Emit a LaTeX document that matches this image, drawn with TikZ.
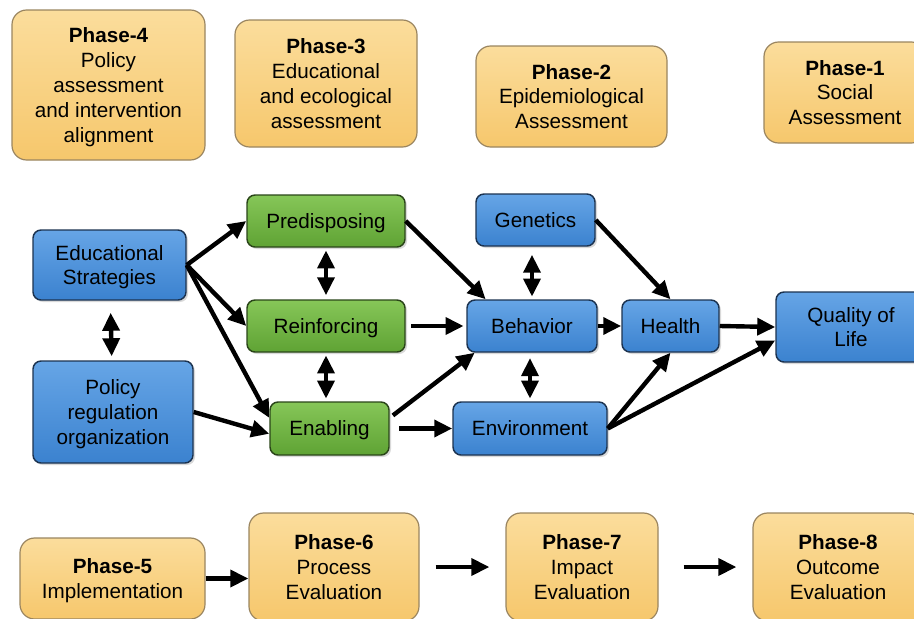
\documentclass[tikz,border=0pt]{standalone}
\usepackage{fontspec}
\setmainfont{Liberation Sans}
\usetikzlibrary{arrows.meta,shadows}

\definecolor{phasetop}{HTML}{FBDD9C}
\definecolor{phasebot}{HTML}{F6C76C}
\definecolor{phaseline}{HTML}{9A8560}
\definecolor{bluetop}{HTML}{66A5E6}
\definecolor{bluebot}{HTML}{3B82CF}
\definecolor{blueline}{HTML}{1C3350}
\definecolor{greentop}{HTML}{86C658}
\definecolor{greenbot}{HTML}{5FA334}
\definecolor{greenline}{HTML}{2A4519}

\tikzset{
  txt/.style={align=center, inner sep=0pt, text depth=0pt,
    font=\fontsize{15.5}{18.6}\selectfont},
  phase/.style={txt, draw=phaseline, line width=0.9pt, rounded corners=11pt,
    top color=phasetop, bottom color=phasebot},
  bluebox/.style={txt, draw=blueline, line width=1.1pt, rounded corners=6pt,
    top color=bluetop, bottom color=bluebot,
    drop shadow={opacity=0.3, shadow xshift=1.5pt, shadow yshift=-1.5pt}},
  greenbox/.style={txt, draw=greenline, line width=1.1pt, rounded corners=6pt,
    top color=greentop, bottom color=greenbot,
    drop shadow={opacity=0.3, shadow xshift=1.5pt, shadow yshift=-1.5pt}},
  link/.style={line width=3.3pt, ->},
  both/.style={line width=3.3pt, <->},
}

\begin{document}
\begin{tikzpicture}[x=0.75pt, y=-0.75pt, >={Triangle[length=13.5pt,width=12.5pt]}]
    \clip (0,0) rectangle (914,618);

    % Phases 1-4
    \node[phase, minimum width=144.75pt, minimum height=112.5pt] (p4) at (108.5,85)
        {\textbf{Phase-4}\\Policy\\assessment\\and intervention\\alignment};
    \node[phase, minimum width=136.5pt, minimum height=95.25pt] (p3) at (326,83.5)
        {\textbf{Phase-3}\\Educational\\and ecological\\assessment};
    \node[phase, minimum width=143.25pt, minimum height=75.75pt] (p2) at (571.5,96.5)
        {\textbf{Phase-2}\\Epidemiological\\Assessment};
    \node[phase, minimum width=121.5pt, minimum height=75.75pt] (p1) at (845,92.5)
        {\textbf{Phase-1}\\Social\\Assessment};

    % Model
    \node[bluebox, minimum width=114.75pt, minimum height=52.5pt] (edu) at (109.5,265)
        {Educational\\Strategies};
    \node[bluebox, minimum width=120pt, minimum height=76.5pt] (pol) at (113,412)
        {Policy\\regulation\\organization};
    \node[greenbox, minimum width=118.5pt, minimum height=39pt] (pre) at (326,221) {Predisposing};
    \node[greenbox, minimum width=118.5pt, minimum height=39pt] (rei) at (326,326) {Reinforcing};
    \node[greenbox, minimum width=89.25pt, minimum height=39.75pt] (ena) at (329.5,428.5) {Enabling};
    \node[bluebox, minimum width=89.25pt, minimum height=39pt] (gen) at (535.5,220) {Genetics};
    \node[bluebox, minimum width=97.5pt, minimum height=39pt] (beh) at (532,326) {Behavior};
    \node[bluebox, minimum width=115.5pt, minimum height=39.75pt] (env) at (530,428.5) {Environment};
    \node[bluebox, minimum width=72.75pt, minimum height=39pt] (hea) at (670.5,326) {Health};
    \node[bluebox, minimum width=112.5pt, minimum height=52.5pt] (qol) at (851,327)
        {Quality of\\Life};

    \draw[link] (edu.east) -- (pre.west);
    \draw[link] (edu.east) -- (rei.west);
    \draw[link] (edu.east) -- (ena.170);
    \draw[both, shorten <=9pt, shorten >=3pt] (edu) -- (pol);
    \draw[link] (pol.east) -- (ena.185);
    \draw[both, shorten <=2pt, shorten >=3pt] (pre) -- (rei);
    \draw[both, shorten <=2pt, shorten >=2pt] (rei) -- (ena.north -| rei.south);
    \draw[link] (pre.east) -- (beh.150);
    \draw[link, shorten <=4pt, shorten >=2pt] (rei.east) -- (beh.west);
    \draw[link, shorten <=3pt] (ena.10) -- (beh.205);
    \draw[link, shorten <=7pt] (ena.east) -- (env.west);
    \draw[both, shorten <=6pt, shorten >=2pt] (gen.south -| beh.north) -- (beh.north);
    \draw[both, shorten <=4pt, shorten >=2pt] (beh.south -| env.north) -- (env.north);
    \draw[link] (gen.east) -- (hea.north);
    \draw[link] (beh.east) -- (hea.west);
    \draw[link] (env.east) -- (hea.south);
    \draw[link] (env.east) -- (qol.190);
    \draw[link] (hea.east) -- (qol.west);

    % Phases 5-8
    \node[phase, minimum width=138.75pt, minimum height=60.75pt] (p5) at (112.5,578.5)
        {\textbf{Phase-5}\\Implementation};
    \node[phase, minimum width=127.5pt, minimum height=81pt] (p6) at (334,567)
        {\textbf{Phase-6}\\Process\\Evaluation};
    \node[phase, minimum width=114pt, minimum height=81pt] (p7) at (582,567)
        {\textbf{Phase-7}\\Impact\\Evaluation};
    \node[phase, minimum width=127.5pt, minimum height=81pt] (p8) at (838,567)
        {\textbf{Phase-8}\\Outcome\\Evaluation};

    \draw[link] (p5.east) -- (p5.east -| p6.west);
    \draw[link, shorten <=12pt, shorten >=12pt] (p6.east) -- (p7.west);
    \draw[link, shorten <=18.75pt, shorten >=12pt] (p7.east) -- (p8.west);
\end{tikzpicture}
\end{document}
